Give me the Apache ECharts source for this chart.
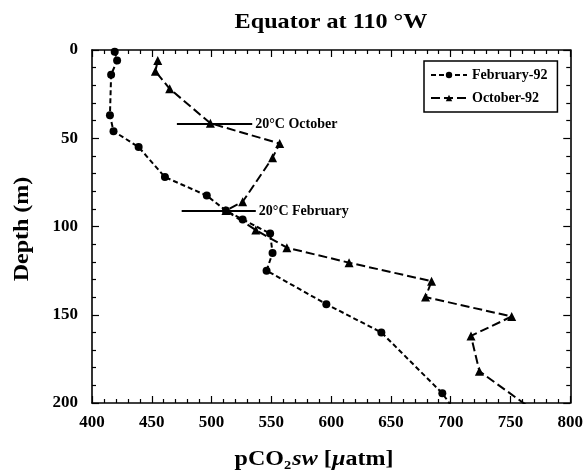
<!DOCTYPE html>
<html>
<head>
<meta charset="utf-8">
<script src="https://cdn.jsdelivr.net/npm/echarts@6/dist/echarts.min.js"></script>
<style>html,body{margin:0;padding:0;background:#fff}#c{width:586px;height:472px}</style>
</head>
<body>
<div id="c"></div>
<script>
// pCO2 (µatm), depth (m)
const febPco2  = [419, 421, 416, 415, 418, 439, 461, 496, 512, 526, 549, 551, 546, 596, 642, 693, 703];
const febDepth = [1, 6, 14, 37, 46, 55, 72, 82.5, 91, 96, 104, 115, 125, 144, 160, 194.5, 204];
const octPco2  = [455, 453, 465, 499, 557, 551, 526, 512, 537, 563, 615, 684, 679, 751, 717, 724, 769];
const octDepth = [6, 12, 22, 41.5, 53, 61, 86, 91, 102, 112, 120.5, 131, 140, 151, 162, 182, 204];
const xTicks = [400, 450, 500, 550, 600, 650, 700, 750, 800];
const yTicks = [0, 50, 100, 150, 200];
// 20°C isotherm markers: [xStart, xEnd, depth, label]
const isoOct = [471, 534, 41.9, '20°C October'];
const isoFeb = [475, 537, 91.2, '20°C February'];

const serif = '"Liberation Serif","DejaVu Serif",serif';
const zip = (a, b) => a.map((v, i) => [v, b[i]]);

function isoSeries(iso) {
  return {
    type: 'line', data: [[iso[0], iso[2]], [iso[1], iso[2]]],
    symbol: 'none', silent: true, z: 1,
    lineStyle: { color: '#000', width: 2 },
    endLabel: { show: true, formatter: iso[3], color: '#000', fontFamily: serif,
      fontWeight: 'bold', fontSize: 14, distance: 3 }
  };
}

const chart = echarts.init(document.getElementById('c'), null, { renderer: 'canvas' });
const axisLine = { show: true, onZero: false, lineStyle: { color: '#000', width: 1.6 } };
const tickStyle = { color: '#000', width: 1.2 };
chart.setOption({
  animation: false,
  backgroundColor: '#fff',
  grid: { left: 92, right: 15, top: 50, bottom: 69 },
  graphic: [
    { type: 'text', x: 331, y: 23, scaleX: 1.15, style: { text: 'Equator at 110 °W', font: 'bold 21px ' + serif, fill: '#000', align: 'center', verticalAlign: 'middle' } },
    { type: 'text', x: 314, y: 460, scaleX: 1.2, style: {
        text: '{a|pCO}{s|2}{i|sw}{a| [}{i|µ}{a|atm]}', align: 'center', verticalAlign: 'middle',
        rich: {
          a: { font: 'bold 20px ' + serif, fill: '#000' },
          i: { font: 'italic bold 20px ' + serif, fill: '#000' },
          s: { font: 'bold 12px ' + serif, fill: '#000', padding: [11, 1, 0, 0] }
        } } },
    { type: 'text', x: 23, y: 229, rotation: Math.PI / 2, scaleX: 1.2, style: { text: 'Depth (m)', font: 'bold 20px ' + serif, fill: '#000', align: 'center', verticalAlign: 'middle' } }
  ],
  legend: {
    orient: 'vertical', left: 424, top: 61,
    backgroundColor: '#fff', borderColor: '#000', borderWidth: 1.5, borderRadius: 0,
    padding: [7, 10, 7, 6], itemGap: 9, itemWidth: 36, itemHeight: 8,
    textStyle: { fontFamily: serif, fontWeight: 'bold', fontSize: 14, color: '#000' },
    data: ['February-92', 'October-92']
  },
  xAxis: [
    { type: 'value', min: 400, max: 800, interval: 50, axisLine,
      axisTick: { show: true, inside: true, length: 7, lineStyle: tickStyle },
      minorTick: { show: true, splitNumber: 5, length: 4, lineStyle: tickStyle },
      splitLine: { show: false },
      axisLabel: { margin: 11, color: '#000', fontFamily: serif, fontWeight: 'bold', fontSize: 17,
        formatter: v => xTicks.includes(v) ? String(v) : '' } },
    { type: 'value', position: 'top', min: 400, max: 800, interval: 50, axisLine,
      axisTick: { show: true, inside: true, length: 7, lineStyle: tickStyle },
      minorTick: { show: true, splitNumber: 5, length: 4, lineStyle: tickStyle },
      splitLine: { show: false }, axisLabel: { show: false } }
  ],
  yAxis: [
    { type: 'value', inverse: true, min: 0, max: 200, interval: 50, axisLine,
      axisTick: { show: true, inside: true, length: 7, lineStyle: tickStyle },
      minorTick: { show: true, splitNumber: 5, length: 4, lineStyle: tickStyle },
      splitLine: { show: false },
      axisLabel: { margin: 14, color: '#000', fontFamily: serif, fontWeight: 'bold', fontSize: 17,
        formatter: v => yTicks.includes(v) ? String(v) : '' } },
    { type: 'value', position: 'right', inverse: true, min: 0, max: 200, interval: 50, axisLine,
      axisTick: { show: true, inside: true, length: 7, lineStyle: tickStyle },
      minorTick: { show: true, splitNumber: 5, length: 4, lineStyle: tickStyle },
      splitLine: { show: false }, axisLabel: { show: false } }
  ],
  series: [
    { name: 'February-92', type: 'line', data: zip(febPco2, febDepth), clip: true, z: 3,
      symbol: 'circle', symbolSize: 8, showAllSymbol: true,
      itemStyle: { color: '#000' },
      lineStyle: { color: '#000', width: 2, type: [5, 3] } },
    { name: 'October-92', type: 'line', data: zip(octPco2, octDepth), clip: true, z: 3,
      symbol: 'triangle', symbolSize: 9, showAllSymbol: true,
      itemStyle: { color: '#000' },
      lineStyle: { color: '#000', width: 2, type: [9, 4] } },
    isoSeries(isoOct),
    isoSeries(isoFeb)
  ]
});
</script>
</body>
</html>
